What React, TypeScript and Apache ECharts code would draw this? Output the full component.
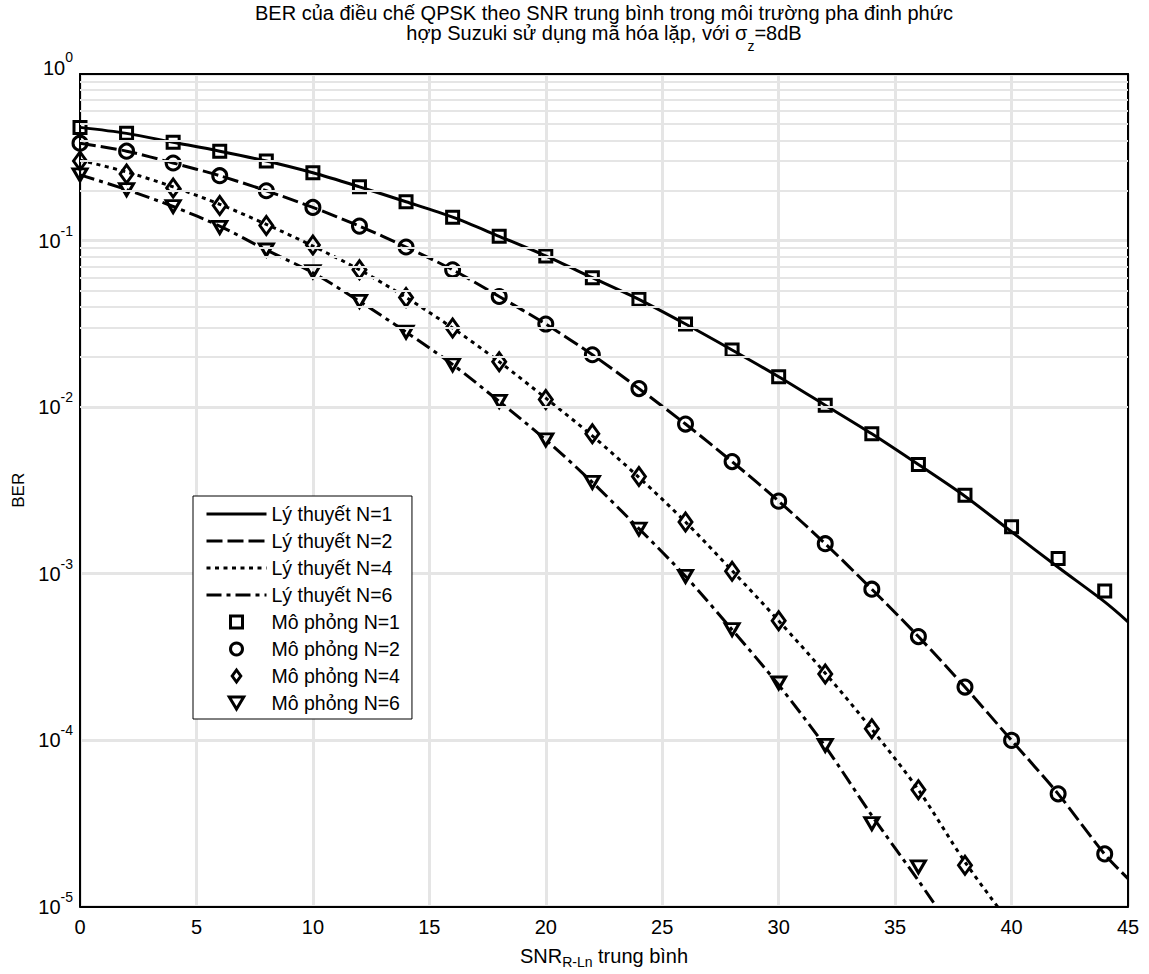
import { useEffect, useRef } from "react";
import * as echarts from "echarts";

// SNR grid (dB) for the analytical curves and the simulated points
const snrTheory = [0, 2, 4, 6, 8, 10, 12, 14, 16, 18, 20, 22, 24, 26, 28, 30, 32, 34, 36, 38, 40, 42, 44, 45];
const snrSim = [0, 2, 4, 6, 8, 10, 12, 14, 16, 18, 20, 22, 24, 26, 28, 30, 32, 34, 36, 38, 40, 42, 44];

// Analytical BER (null = not plotted)
const theoryN1 = [0.478, 0.44, 0.389, 0.344, 0.3, 0.255, 0.21, 0.171, 0.138, 0.106, 0.0808, 0.0598, 0.0443, 0.0315, 0.022, 0.0152, 0.01025, 0.0069, 0.00451, 0.00291, 0.00178, 0.00109, 0.000675, 0.000513];
const theoryN2 = [0.384, 0.344, 0.292, 0.245, 0.199, 0.158, 0.122, 0.0914, 0.0667, 0.0461, 0.0315, 0.0206, 0.0129, 0.0079, 0.0047, 0.00272, 0.00151, 0.000805, 0.000418, 0.000208, 0.0000995, 0.0000475, 0.0000206, 0.0000147];
const theoryN4 = [0.304, 0.258, 0.21, 0.165, 0.125, 0.0926, 0.0667, 0.0455, 0.0298, 0.0187, 0.0113, 0.00671, 0.00378, 0.00204, 0.00104, 0.00052, 0.000252, 0.000116, 0.0000502, 0.0000185, 0.0000077, null, null, null];
const theoryN6 = [0.248, 0.202, 0.16, 0.122, 0.0877, 0.064, 0.0431, 0.0282, 0.018, 0.0108, 0.00635, 0.00353, 0.00186, 0.000962, 0.00046, 0.000214, 0.0000916, 0.0000352, 0.0000143, 0.0000056, null, null, null, null];

// Simulated BER
const simN1 = [0.478, 0.44, 0.389, 0.344, 0.3, 0.255, 0.21, 0.171, 0.138, 0.106, 0.0808, 0.0598, 0.0443, 0.0315, 0.022, 0.0152, 0.01025, 0.0069, 0.00451, 0.00295, 0.00191, 0.00123, 0.000784];
const simN2 = [0.384, 0.344, 0.292, 0.245, 0.199, 0.158, 0.122, 0.0914, 0.0667, 0.0461, 0.0315, 0.0206, 0.0129, 0.0079, 0.0047, 0.00272, 0.00151, 0.000805, 0.000418, 0.000208, 0.0000995, 0.0000475, 0.0000207];
const simN4 = [0.3, 0.251, 0.207, 0.162, 0.123, 0.0939, 0.0667, 0.0455, 0.0298, 0.0187, 0.0111, 0.0069, 0.00383, 0.00204, 0.00103, 0.00052, 0.000249, 0.000117, 0.0000502, 0.0000177];
const simN6 = [0.248, 0.202, 0.16, 0.12, 0.0877, 0.0649, 0.0431, 0.0282, 0.0179, 0.0108, 0.00635, 0.00353, 0.00185, 0.00096, 0.00046, 0.00022, 0.0000929, 0.0000315, 0.0000173];

const theoryNames = ["Lý thuyết N=1", "Lý thuyết N=2", "Lý thuyết N=4", "Lý thuyết N=6"];
const simNames = ["Mô phỏng N=1", "Mô phỏng N=2", "Mô phỏng N=4", "Mô phỏng N=6"];

// Log-axis decades and the in-between grid multipliers
const decades = [1e-5, 1e-4, 1e-3, 1e-2, 1e-1];
const minorMultipliers = [2, 3, 4, 5, 6, 7, 8, 9];

const FONT = "'Liberation Sans', Arial, Helvetica, sans-serif";
const GRID_GRAY = "#e5e5e5";

const pairs = (xs: number[], ys: (number | null)[]) =>
  xs.map((x, i) => [x, ys[i]]).filter((p) => p[1] !== null);

const App = () => {
  const ref = useRef<HTMLDivElement>(null);

  useEffect(() => {
    if (!ref.current) return;
    const chart = echarts.init(ref.current, null, { renderer: "svg" });

    const minorGrid: number[] = [];
    decades.forEach((d) => minorMultipliers.forEach((m) => minorGrid.push(d * m)));

    const theoryDash: (number[] | "solid")[] = ["solid", [16, 5], [4, 4.5], [15, 5, 4, 5]];
    const theoryData = [theoryN1, theoryN2, theoryN4, theoryN6];
    const simData = [simN1, simN2, simN4, simN6];
    const simSymbols = ["rect", "circle", "diamond", "triangle"];
    const simSizes: (number | number[])[] = [12, 14, [13, 18], [14, 12]];
    const simRotate = [0, 0, 0, 180];
    const simLegendIcons = [
      "path://M0,0H10V10H0Z",
      "circle",
      "path://M5,0L10,7L5,14L0,7Z",
      "path://M0,0L12,0L6,10Z",
    ];

    const markerStyle = { color: "rgba(255,255,255,0)", borderColor: "#000", borderWidth: 3, opacity: 1 };

    const series: any[] = [
      {
        type: "line",
        data: [],
        z: 1,
        silent: true,
        markLine: {
          silent: true,
          symbol: "none",
          animation: false,
          label: { show: false },
          lineStyle: { color: GRID_GRAY, width: 2, type: "solid" },
          data: minorGrid.map((v) => ({ yAxis: v })),
        },
      },
    ];

    theoryNames.forEach((name, i) => {
      series.push({
        name,
        type: "line",
        data: pairs(snrTheory, theoryData[i]),
        smooth: 0.3,
        symbol: "none",
        clip: true,
        z: 3,
        lineStyle: { color: "#000", width: 3, type: theoryDash[i], cap: "butt", opacity: 1 },
        itemStyle: { color: "#000", opacity: 0 },
      });
    });

    simNames.forEach((name, i) => {
      series.push({
        name,
        type: "scatter",
        data: pairs(snrSim, simData[i]),
        symbol: simSymbols[i],
        symbolSize: simSizes[i],
        symbolRotate: simRotate[i],
        z: 4,
        itemStyle: markerStyle,
      });
    });

    const option: any = {
      animation: false,
      backgroundColor: "#ffffff",
      textStyle: { fontFamily: FONT },
      grid: { left: 80, right: 21, top: 74, bottom: 58, containLabel: false },
      graphic: [
        {
          type: "text",
          x: 604,
          y: 3,
          silent: true,
          style: {
            text:
              "{t|BER của điều chế QPSK theo SNR trung bình trong môi trường pha đinh phức}\n" +
              "{t|hợp Suzuki sử dụng mã hóa lặp, với }{t|σ}{sub|z}{t|=8dB}",
            align: "center",
            verticalAlign: "top",
            fill: "#000",
            rich: {
              t: { fontFamily: FONT, fontSize: 20, lineHeight: 20, fill: "#000" },
              sub: { fontFamily: FONT, fontSize: 14, lineHeight: 20, fill: "#000", padding: [26, 0, 0, 0] },
            },
          },
        },
      ],
      legend: {
        orient: "vertical",
        left: 193,
        top: 496,
        data: [
          ...theoryNames.map((name, i) => ({
            name,
            itemStyle: { opacity: 0 },
            lineStyle: { color: "#000", width: 3, type: theoryDash[i], cap: "butt", opacity: 1 },
          })),
          ...simNames.map((name, i) => ({
            name,
            icon: simLegendIcons[i],
            itemStyle: markerStyle,
          })),
        ],
        itemWidth: 60,
        itemHeight: 12,
        itemGap: 7,
        padding: [8, 12, 6, 12],
        borderColor: "#000",
        borderWidth: 1,
        borderRadius: 0,
        backgroundColor: "#fff",
        selectedMode: false,
        lineStyle: { width: 3, cap: "butt" },
        textStyle: { fontFamily: FONT, fontSize: 19.5, color: "#000", lineHeight: 16 },
      },
      xAxis: [
        {
          type: "value",
          min: 0,
          max: 45,
          interval: 5,
          name: "{t|SNR}{sub|R-Ln}{t| trung bình}",
          nameLocation: "middle",
          nameGap: 39,
          nameTextStyle: {
            rich: {
              t: { fontFamily: FONT, fontSize: 20, lineHeight: 20, color: "#000" },
              sub: { fontFamily: FONT, fontSize: 14, lineHeight: 20, color: "#000", padding: [13, 0, 0, 0] },
            },
          },
          axisLine: { show: true, onZero: false, lineStyle: { color: "#000", width: 2 } },
          axisTick: { show: false },
          axisLabel: { fontFamily: FONT, fontSize: 20, lineHeight: 20, color: "#000", margin: 10 },
          splitLine: { show: true, lineStyle: { color: GRID_GRAY, width: 3 } },
        },
        {
          type: "value",
          position: "top",
          min: 0,
          max: 45,
          interval: 5,
          axisLine: { show: true, onZero: false, lineStyle: { color: "#000", width: 2 } },
          axisTick: { show: false },
          axisLabel: { show: false },
          splitLine: { show: false },
        },
      ],
      yAxis: [
        {
          type: "log",
          logBase: 10,
          min: 1e-5,
          max: 1,
          splitNumber: 5,
          name: "BER",
          nameLocation: "middle",
          nameGap: 53,
          nameTextStyle: { fontFamily: FONT, fontSize: 17, color: "#000" },
          axisLine: { show: true, onZero: false, lineStyle: { color: "#000", width: 2 } },
          axisTick: { show: false },
          axisLabel: {
            margin: 7,
            formatter: (v: number) => {
              const e = Math.round(Math.log10(v));
              return e === 0 ? `{b0|10}{s0|${e}}` : `{b|10}{s|${e}}`;
            },
            rich: {
              b: { fontFamily: FONT, fontSize: 20, lineHeight: 20, color: "#000" },
              s: { fontFamily: FONT, fontSize: 14, lineHeight: 20, color: "#000", padding: [0, 0, 20, 0] },
              b0: { fontFamily: FONT, fontSize: 20, lineHeight: 20, color: "#000", padding: [0, 0, 13, 0] },
              s0: { fontFamily: FONT, fontSize: 14, lineHeight: 20, color: "#000", padding: [0, 0, 34, 0] },
            },
          },
          splitLine: { show: true, lineStyle: { color: GRID_GRAY, width: 3 } },
        },
        {
          type: "log",
          logBase: 10,
          min: 1e-5,
          max: 1,
          position: "right",
          axisLine: { show: true, onZero: false, lineStyle: { color: "#000", width: 2 } },
          axisTick: { show: false },
          axisLabel: { show: false },
          splitLine: { show: false },
        },
      ],
      series,
    };

    chart.setOption(option);
    return () => chart.dispose();
  }, []);

  return (
    <div
      ref={ref}
      style={{ position: "absolute", left: 0, top: 0, width: 1149, height: 974, background: "#fff" }}
    />
  );
};

export default App;
